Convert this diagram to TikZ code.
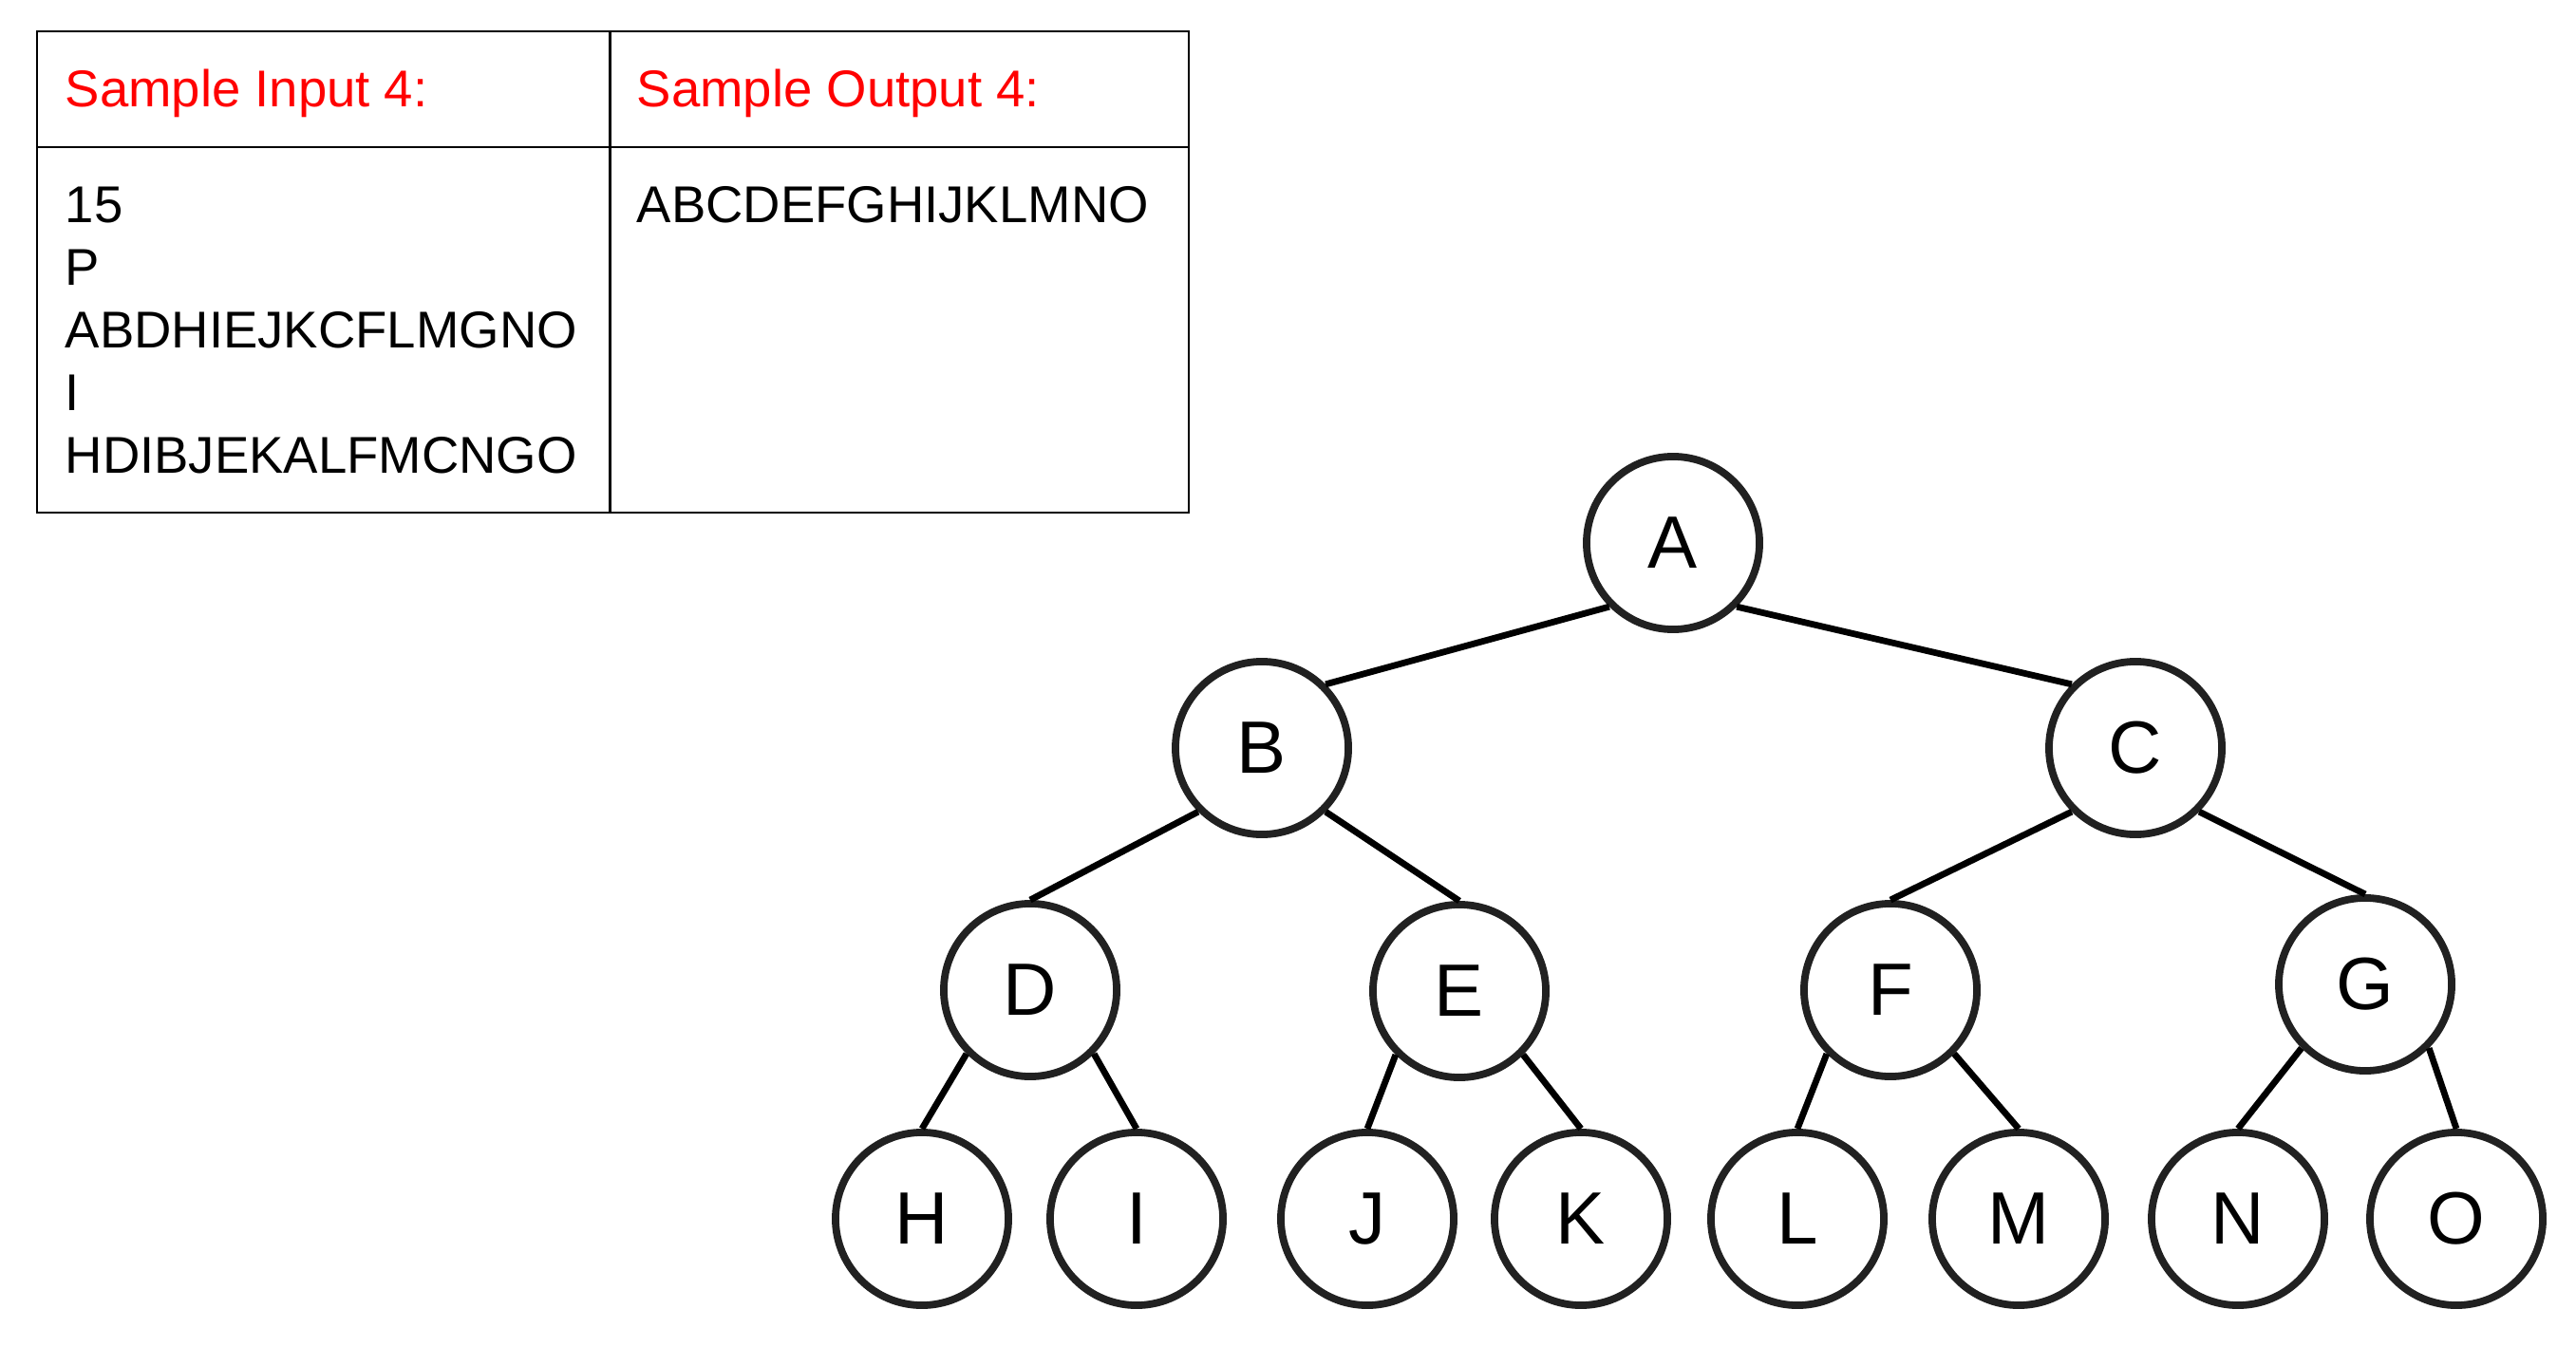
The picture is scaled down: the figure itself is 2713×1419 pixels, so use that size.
\documentclass[tikz,border=0pt]{standalone}
\usepackage{fontspec}
\setmainfont{Liberation Sans}
\usepackage{tikz}
\tikzset{
  font={\fontsize{15.5pt}{19}\selectfont}}

\begin{document}
\begin{tikzpicture}[x=0.01cm, y=-0.01cm,
  vx/.style={draw=black!87, fill=white, shape=circle, line width=0.078cm, minimum size=1.82cm, inner sep=0pt, font={\fontsize{22.2pt}{26}\selectfont}},
  ln/.style={-, line width=0.068cm},
  grid/.style={line width=0.025cm},
  tx/.style={anchor=base west, inner sep=0pt},
  hd/.style={tx, text=red}]
\useasboundingbox (0,0) rectangle (2713,1419);
% table
\draw[grid] (39,33) rectangle (1252,540);
\draw[grid] (39,155) -- (1252,155);
\draw[grid] (642.5,33) -- (642.5,540);
\node (hi) [hd] at (68,113) {Sample Input 4:};
\node (ho) [hd] at (670,113) {Sample Output 4:};
\node (i1) [tx] at (68,235) {15};
\node (i2) [tx] at (68,301) {P};
\node (i3) [tx] at (68,367) {ABDHIEJKCFLMGNO};
\node (i4) [tx] at (68,433) {I};
\node (i5) [tx] at (68,499) {HDIBJEKALFMCNGO};
\node (o1) [tx] at (670,235) {ABCDEFGHIJKLMNO};
% tree
\node (a) [vx] at (1762,572) {A};
\node (b) [vx] at (1329,788) {B};
\node (c) [vx] at (2249,788) {C};
\node (d) [vx] at (1085,1043) {D};
\node (e) [vx] at (1537,1044) {E};
\node (f) [vx] at (1991,1043) {F};
\node (g) [vx] at (2491,1037) {G};
\node (h) [vx] at (971,1284) {H};
\node (i) [vx] at (1197,1284) {I};
\node (j) [vx] at (1440,1284) {J};
\node (k) [vx] at (1665,1284) {K};
\node (l) [vx] at (1893,1284) {L};
\node (m) [vx] at (2126,1284) {M};
\node (n) [vx] at (2357,1284) {N};
\node (o) [vx] at (2587,1284) {O};
\draw[ln] (a.225) -- (b.45);
\draw[ln] (a.-45) -- (c.135);
\draw[ln] (b.225) -- (d.north);
\draw[ln] (b.-45) -- (e.north);
\draw[ln] (c.225) -- (f.north);
\draw[ln] (c.-45) -- (g.north);
\draw[ln] (d.225) -- (h.north);
\draw[ln] (d.-45) -- (i.north);
\draw[ln] (e.225) -- (j.north);
\draw[ln] (e.-45) -- (k.north);
\draw[ln] (f.225) -- (l.north);
\draw[ln] (f.-45) -- (m.north);
\draw[ln] (g.225) -- (n.north);
\draw[ln] (g.-45) -- (o.north);
\end{tikzpicture}
\end{document}
